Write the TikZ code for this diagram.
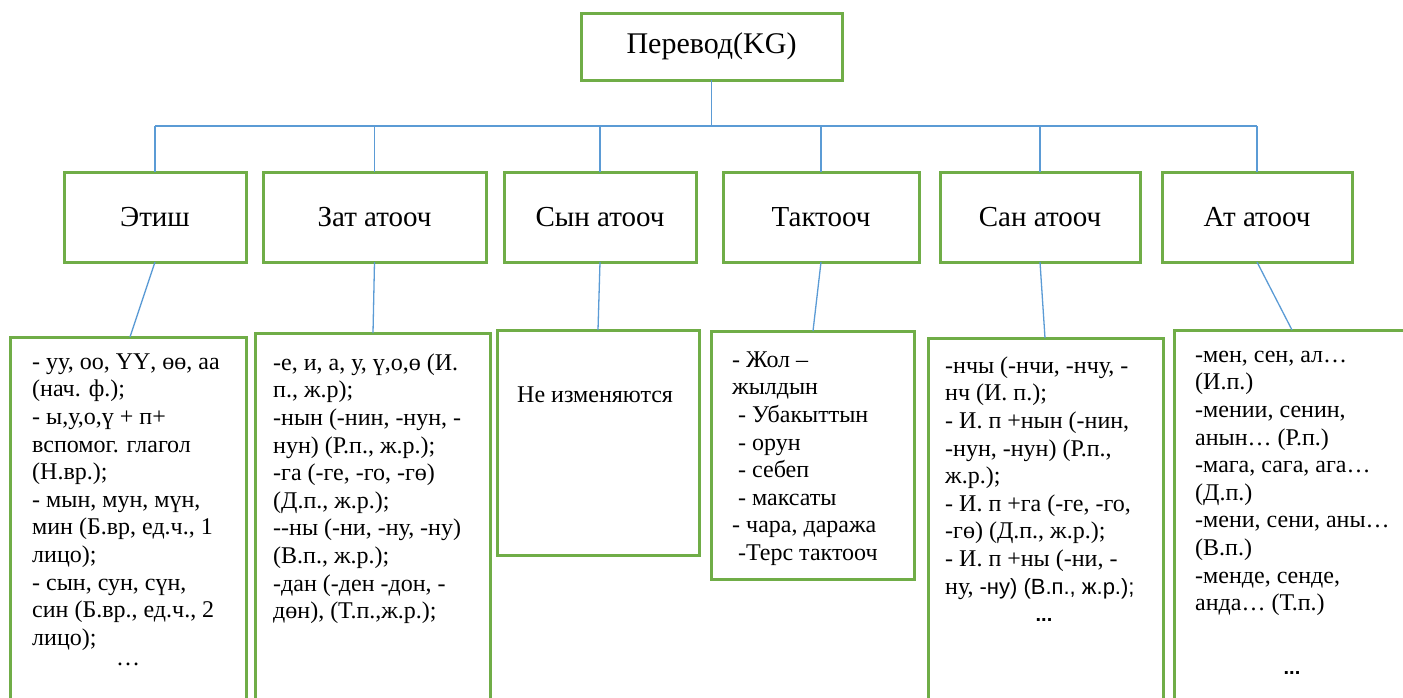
\documentclass[tikz,border=0pt]{standalone}
\usepackage{fontspec}
\setmainfont{Liberation Serif}
\newfontfamily\arialfont{Liberation Sans}
\usetikzlibrary{calc}

\definecolor{boxgreen}{HTML}{70AD47}
\definecolor{linkblue}{HTML}{5B9BD5}

\tikzset{
  rootbox/.style={draw=boxgreen, line width=3pt, outer sep=0pt,
    minimum width=261pt, minimum height=67pt, font=\fontsize{30}{34}\selectfont},
  partbox/.style={draw=boxgreen, line width=3pt, outer sep=0pt,
    minimum height=90pt, font=\fontsize{29}{34}\selectfont},
  listbox/.style={draw=boxgreen, line width=3pt, outer sep=0pt, anchor=north west},
  listtext/.style={anchor=north west, align=left, inner sep=0pt,
    font=\fontsize{24}{27.6}\selectfont},
  dots/.style={inner sep=0pt, font=\fontsize{24}{27.6}\selectfont},
  sansdots/.style={inner sep=0pt, font=\arialfont\bfseries\fontsize{20}{24}\selectfont},
  link/.style={draw=linkblue, line width=1.3pt},
}

\begin{document}
\begin{tikzpicture}[x=1pt,y=-1pt]
    \useasboundingbox (0,0) rectangle (1403,697);
    \clip (0,0) rectangle (1403,697);

    % Root
    \node[rootbox] (root) at (711.5,46.5) {Перевод(KG)};

    % Parts of speech
    \node[partbox, minimum width=182pt] (etish) at (155,217) {Этиш};
    \node[partbox, minimum width=223pt] (zat) at (374.5,217) {Зат атооч};
    \node[partbox, minimum width=192pt] (syn) at (600,217) {Сын атооч};
    \node[partbox, minimum width=196pt] (takt) at (821,217) {Тактооч};
    \node[partbox, minimum width=200pt] (san) at (1040,217) {Сан атооч};
    \node[partbox, minimum width=190pt] (at) at (1257,217) {Ат атооч};

    % Bus between root and parts
    \coordinate (bus) at (0,126);
    \draw[link] (root.south) -- (root.south |- bus);
    \draw[link] (etish.north |- bus) -- (at.north |- bus);
    \foreach \p in {etish,zat,syn,takt,san,at}
        \draw[link] (\p.north |- bus) -- (\p.north);

    % Lists of endings
    \node[listbox, minimum width=236pt, minimum height=400pt] (etishlist) at (10,337) {};
    \node[listbox, minimum width=235pt, minimum height=400pt] (zatlist) at (255,333) {};
    \node[listbox, minimum width=202pt, minimum height=225pt] (synlist) at (497,330) {};
    \node[listbox, minimum width=203pt, minimum height=248pt] (taktlist) at (711,331) {};
    \node[listbox, minimum width=235pt, minimum height=400pt] (sanlist) at (928,338) {};
    \node[listbox, minimum width=260pt, minimum height=400pt] (atlist) at (1174,330) {};

    % strut height is 0.7 x 27.6 = 19.3pt above the first baseline
    \node[listtext] (etishtext) at ([xshift=22pt,yshift=-12.7pt]etishlist.north west)
        {\strut- уу, оо, ҮҮ, өө, аа\\(нач. ф.);\\- ы,у,о,ү + п+\\вспомог. глагол\\(Н.вр.);\\
         - мын, мун, мүн,\\мин (Б.вр, ед.ч., 1\\лицо);\\- сын, сун, сүн,\\
         син (Б.вр., ед.ч., 2\\лицо);};
    \node[dots, anchor=base] (etishdots) at (128,665) {…};

    \node[listtext] (zattext) at ([xshift=18pt,yshift=-17.7pt]zatlist.north west)
        {\strut-е, и, а, у, ү,о,ө (И.\\п., ж.р);\\-нын (-нин, -нун, -\\нун) (Р.п., ж.р.);\\
         -га (-ге, -го, -гө)\\(Д.п., ж.р.);\\-{}-ны (-ни, -ну, -ну)\\(В.п., ж.р.);\\
         -дан (-ден -дон, -\\дөн), (Т.п.,ж.р.);};

    \node[listtext] (syntext) at ([xshift=20pt,yshift=-52.7pt]synlist.north west)
        {\strut Не изменяются};

    \node[listtext] (takttext) at ([xshift=21pt,yshift=-16.7pt]taktlist.north west)
        {\strut- Жол –\\жылдын\\\hspace{6pt}- Убакыттын\\\hspace{6pt}- орун\\
         \hspace{6pt}- себеп\\\hspace{6pt}- максаты\\- чара, даража\\\hspace{6pt}-Терс тактооч};

    \node[listtext] (santext) at ([xshift=17pt,yshift=-15.7pt]sanlist.north west)
        {\strut-нчы (-нчи, -нчу, -\\нч (И. п.);\\- И. п +нын (-нин,\\-нун, -нун) (Р.п.,\\
         ж.р.);\\- И. п +га (-ге, -го,\\-гө) (Д.п., ж.р.);\\- И. п +ны (-ни, -\\
         ну, {\arialfont\fontsize{22}{27.6}\selectfont -ну) (В.п., ж.р.);}};
    \node[sansdots, anchor=base] (sandots) at (1044,621) {...};

    \node[listtext] (attext) at ([xshift=21pt,yshift=-12.7pt]atlist.north west)
        {\strut-мен, сен, ал…\\(И.п.)\\-мении, сенин,\\анын… (Р.п.)\\-мага, сага, ага…\\
         (Д.п.)\\-мени, сени, аны…\\(В.п.)\\-менде, сенде,\\анда… (Т.п.)};
    \node[sansdots, anchor=base] (atdots) at (1292,674) {...};

    % Links from parts to lists
    \draw[link] (etish.south) -- ([xshift=120pt]etishlist.north west);
    \draw[link] (zat.south) -- ([xshift=118pt]zatlist.north west);
    \draw[link] (syn.south) -- ([xshift=101pt]synlist.north west);
    \draw[link] (takt.south) -- ([xshift=102pt]taktlist.north west);
    \draw[link] (san.south) -- ([xshift=117pt]sanlist.north west);
    \draw[link] (at.south) -- ([xshift=118pt]atlist.north west);
\end{tikzpicture}
\end{document}
